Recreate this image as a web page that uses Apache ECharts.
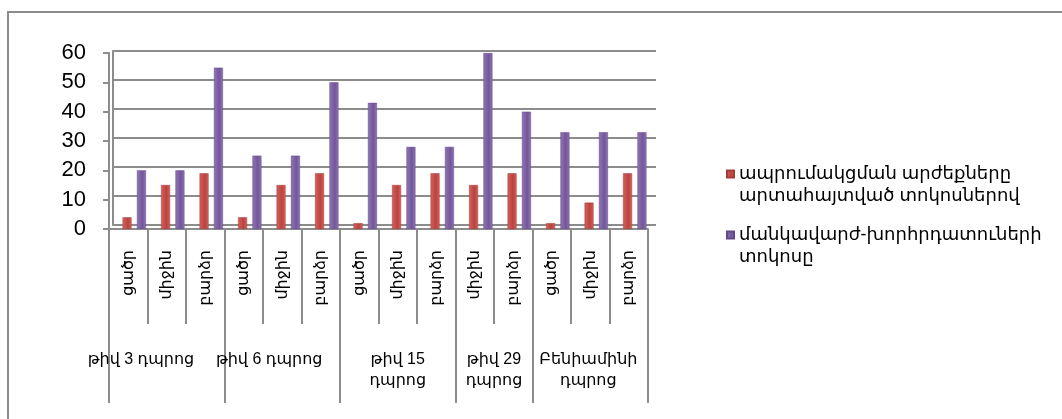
<!DOCTYPE html>
<html>
<head>
<meta charset="utf-8">
<script src="https://cdn.jsdelivr.net/npm/echarts@6/dist/echarts.min.js"></script>
<style>html,body{margin:0;padding:0;background:#fff}#c{width:1062px;height:419px}</style>
</head>
<body>
<div id="c"></div>
<script>
const subCategories = ['ցածր','միջին','բարձր','ցածր','միջին','բարձր','ցածր','միջին','բարձր','միջին','բարձր','ցածր','միջին','բարձր'];
const groupNames = ['թիվ 3 դպրոց','թիվ 6 դպրոց','թիվ 15\nդպրոց','թիվ 29\nդպրոց','Բենիամինի\nդպրոց'];
const groupSizes = [3,3,3,2,3];
const seriesNames = ['ապրումակցման արժեքները արտահայտված տոկոսներով','մանկավարժ-խորհրդատուների տոկոսը'];
const legendLabels = ['ապրումակցման արժեքները\nարտահայտված տոկոսներով','մանկավարժ-խորհրդատուների\nտոկոսը'];
const redValues = [4,15,19,4,15,19,2,15,19,15,19,2,9,19];
const purpleValues = [20,20,55,25,25,50,43,28,28,60,40,33,33,33];

const FONT = 'Liberation Sans, DejaVu Sans, sans-serif';
const GRAY = '#8c8c8c';

const bounds = [0];
groupSizes.forEach(s => bounds.push(bounds[bounds.length-1] + s));
const labelShift = [-0.67, -0.34, 0, 0, -0.05];
const groupCenters = groupSizes.map((s,i) => bounds[i] + s/2 + labelShift[i]);
function groupOf(v){ for (let i=0;i<groupSizes.length;i++){ if (v>=bounds[i] && v<bounds[i+1]) return i; } return groupSizes.length-1; }

function barGrad(c1, c2){
  return new echarts.graphic.LinearGradient(0,0,1,0,[{offset:0,color:c1},{offset:0.6,color:c2},{offset:1,color:c1}]);
}

const chart = echarts.init(document.getElementById('c'), null, {renderer:'canvas'});
chart.setOption({
  animation:false,
  textStyle:{fontFamily:FONT},
  graphic:[{type:'rect', shape:{x:8,y:12,width:1200,height:600}, style:{fill:'none',stroke:GRAY,lineWidth:2}, silent:true}],
  grid:[
    {left:109, top:53, width:539, height:176},
    {left:113, top:51, width:543, height:174},
    {left:115, top:53, width:539, height:176}
  ],
  legend:{
    orient:'vertical', left:721, top:136, itemGap:-5, itemWidth:7, itemHeight:7, icon:'rect',
    selectedMode:false,
    data:seriesNames,
    formatter:n => '\n' + legendLabels[seriesNames.indexOf(n)],
    textStyle:{fontFamily:FONT, fontSize:18, color:'#000', lineHeight:22}
  },
  xAxis:[
    {type:'category', gridIndex:0, data:subCategories, position:'bottom',
     axisLine:{show:true, lineStyle:{color:GRAY,width:2}},
     axisTick:{show:true, interval:0, length:95, lineStyle:{color:GRAY,width:2}},
     axisLabel:{interval:0, rotate:90, margin:21, fontSize:16, color:'#000', fontFamily:FONT}},
    {type:'value', gridIndex:0, min:0, max:14, position:'bottom',
     axisLine:{show:false}, splitLine:{show:false},
     axisTick:{show:true, customValues:bounds, length:174, lineStyle:{color:GRAY,width:2}},
     axisLabel:{show:true, customValues:groupCenters, margin:120, fontSize:16, lineHeight:21, color:'#000', fontFamily:FONT,
       formatter:v => groupNames[groupOf(v)]}},
    {type:'category', gridIndex:1, data:subCategories, show:false},
    {type:'category', gridIndex:2, data:subCategories, show:false}
  ],
  yAxis:[
    {type:'value', gridIndex:0, min:0, max:60, interval:10,
     axisLine:{show:true, lineStyle:{color:GRAY,width:2}},
     axisTick:{show:true, length:6, lineStyle:{color:GRAY,width:2}},
     axisLabel:{margin:23, fontSize:22, color:'#000', fontFamily:FONT},
     splitLine:{show:false}},
    {type:'value', gridIndex:1, min:0, max:60, interval:10,
     axisLine:{show:true, lineStyle:{color:GRAY,width:2}},
     axisTick:{show:false}, axisLabel:{show:false},
     splitLine:{show:true, lineStyle:{color:GRAY,width:2}}},
    {type:'value', gridIndex:2, min:0, max:60, show:false, splitLine:{show:false}}
  ],
  series:[
    {name:seriesNames[0], type:'bar', xAxisIndex:3, yAxisIndex:2, data:redValues, barWidth:9, barGap:'60%',
     itemStyle:{color:barGrad('#d9605c','#b8433f'), borderColor:'#a53c38', borderWidth:0.5}},
    {name:seriesNames[1], type:'bar', xAxisIndex:3, yAxisIndex:2, data:purpleValues, barWidth:9, barGap:'60%',
     itemStyle:{color:barGrad('#9076b5','#73569a'), borderColor:'#624988', borderWidth:0.5}}
  ]
});
</script>
</body>
</html>
